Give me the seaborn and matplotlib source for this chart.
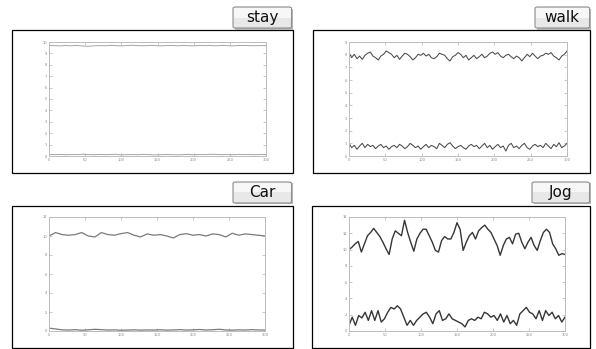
import numpy as np
import matplotlib
matplotlib.use("Agg")
import matplotlib.pyplot as plt
from matplotlib.patches import Rectangle, FancyBboxPatch
import seaborn as sns

sns.set_style("white")
plt.rcParams['font.family'] = ['DejaVu Sans']

# ---------------- data ----------------
titles = ["stay", "walk", "Car", "Jog"]
x_ticks = [0, 50, 100, 150, 200, 250, 300]

stay_upper = [9.70, 9.68, 9.66, 9.69, 9.67, 9.70, 9.65, 9.62, 9.66, 9.68, 9.67, 9.70, 9.68, 9.66,
              9.69, 9.71, 9.68, 9.67, 9.70, 9.69, 9.66, 9.68, 9.70, 9.67, 9.69, 9.68, 9.66, 9.70,
              9.68, 9.69, 9.67, 9.70, 9.68, 9.66, 9.69, 9.70, 9.68, 9.67, 9.69, 9.68]
stay_lower = [0.15, 0.12, 0.14, 0.11, 0.13, 0.12, 0.15, 0.13, 0.11, 0.14, 0.12, 0.13, 0.15, 0.10,
              0.12, 0.13, 0.11, 0.14, 0.12, 0.10, 0.11, 0.13, 0.12, 0.10, 0.12, 0.14, 0.11, 0.13,
              0.12, 0.15, 0.14, 0.12, 0.13, 0.11, 0.14, 0.12, 0.13, 0.11, 0.14, 0.12]
stay_yticks = list(range(0, 11))

walk_upper = [8.16, 7.76, 8.03, 7.68, 7.89, 7.63, 7.95, 8.11, 8.21, 7.89, 7.76, 7.58, 7.89, 8.03,
              8.29, 8.16, 8.03, 7.76, 7.95, 7.63, 7.89, 8.11, 8.03, 7.84, 7.58, 7.76, 8.03, 7.95,
              8.11, 7.89, 8.03, 7.76, 7.68, 7.84, 8.11, 8.03, 7.95, 7.68, 7.50, 7.84, 7.95, 8.16,
              8.03, 7.76, 7.95, 7.58, 7.76, 7.95, 7.68, 7.84, 8.03, 7.76, 7.89, 8.11, 8.21, 8.03,
              8.16, 7.89, 7.76, 7.95, 8.03, 7.84, 7.68, 7.89, 7.76, 7.50, 7.76, 8.03, 7.84, 8.11,
              7.89, 7.68, 7.89, 7.95, 8.11, 8.03, 8.16, 7.89, 7.76, 7.58, 7.89, 8.03, 8.29]
walk_lower = [1.00, 0.66, 0.84, 0.53, 0.79, 1.00, 0.66, 0.92, 0.74, 0.84, 0.58, 0.79, 0.92, 0.66,
              0.79, 0.53, 0.74, 0.84, 0.66, 0.92, 0.79, 0.58, 0.74, 1.00, 0.84, 0.66, 0.79, 0.53,
              0.74, 0.92, 0.66, 0.84, 0.74, 0.58, 1.00, 0.84, 0.66, 0.92, 1.05, 0.79, 0.58, 0.74,
              0.84, 0.66, 0.53, 0.79, 0.92, 0.74, 0.84, 0.58, 0.79, 1.00, 0.66, 0.84, 0.53, 0.74,
              0.92, 0.66, 0.79, 0.39, 0.84, 1.00, 0.66, 0.79, 0.58, 0.84, 1.00, 0.66, 0.53, 0.79,
              0.92, 0.74, 0.84, 0.66, 1.00, 0.79, 0.58, 0.92, 0.74, 1.05, 0.66, 0.79, 1.00]
walk_yticks = list(range(0, 10))

car_upper = [10.00, 10.36, 10.15, 10.08, 10.15, 10.36, 10.00, 9.90, 10.36, 10.15, 10.08, 10.25,
             10.36, 10.08, 9.90, 10.22, 10.08, 10.15, 10.00, 9.80, 10.15, 10.25, 10.08, 10.15,
             10.00, 10.22, 10.15, 9.90, 10.29, 10.08, 10.22, 10.15, 10.08, 10.00]
car_lower = [0.30, 0.22, 0.12, 0.10, 0.14, 0.08, 0.12, 0.18, 0.14, 0.10, 0.12, 0.08, 0.10, 0.12,
             0.09, 0.11, 0.10, 0.13, 0.09, 0.11, 0.14, 0.10, 0.12, 0.16, 0.10, 0.13, 0.18, 0.11,
             0.09, 0.12, 0.10, 0.14, 0.11, 0.10]
car_yticks = [0, 2, 4, 6, 8, 10, 12]

jog_upper = [10.0, 10.3, 10.7, 11.0, 9.7, 10.7, 11.7, 12.1, 12.6, 12.1, 11.6, 10.9, 10.1, 9.4,
             11.3, 12.3, 12.0, 11.7, 13.6, 12.1, 10.9, 9.8, 11.3, 12.0, 12.5, 12.5, 11.7, 10.9,
             9.9, 9.7, 11.1, 11.6, 11.3, 11.3, 12.1, 13.3, 12.5, 9.9, 10.9, 11.7, 12.1, 11.3,
             12.3, 12.7, 13.0, 12.5, 12.1, 11.3, 10.5, 9.3, 10.5, 11.3, 11.5, 10.7, 11.9, 12.0,
             10.9, 10.1, 10.9, 11.5, 10.5, 9.9, 11.1, 12.1, 12.5, 12.1, 10.7, 10.1, 9.3, 9.5, 9.4]
jog_lower = [0.7, 1.7, 0.7, 1.9, 1.6, 2.3, 1.3, 2.5, 1.3, 2.5, 1.1, 1.5, 2.3, 2.9, 2.7, 3.1,
             2.7, 1.7, 0.7, 1.3, 0.7, 1.3, 1.7, 2.1, 2.3, 1.7, 0.9, 2.1, 2.5, 1.3, 1.5, 2.1,
             1.5, 1.3, 1.1, 0.9, 0.5, 1.3, 1.5, 1.3, 1.7, 1.5, 2.3, 2.1, 1.7, 1.9, 1.3, 2.1,
             1.1, 1.9, 0.9, 1.3, 0.7, 2.1, 2.5, 2.9, 2.3, 2.1, 1.5, 2.5, 1.3, 2.5, 1.9, 2.3,
             1.5, 1.9, 1.1, 1.7]
jog_yticks = [0, 2, 4, 6, 8, 10, 12, 14]

panels = [
    dict(title=titles[0], series=[stay_upper, stay_lower], yticks=stay_yticks, color="#a5a5a5", lw=0.7,
         ax_px=(49, 42, 266, 156), box_px=(12, 30.5, 292.5, 172.5), tab_px=(233, 7, 291.5, 28)),
    dict(title=titles[1], series=[walk_upper, walk_lower], yticks=walk_yticks, color="#4a4a4a", lw=0.75,
         ax_px=(349, 42, 567, 156), box_px=(313, 30.5, 590, 172.5), tab_px=(535, 7, 589.5, 28)),
    dict(title=titles[2], series=[car_upper, car_lower], yticks=car_yticks, color="#7a7a7a", lw=0.9,
         ax_px=(49, 217, 265, 331), box_px=(12, 205.5, 292.5, 347.5), tab_px=(233, 182, 291.5, 203)),
    dict(title=titles[3], series=[jog_upper, jog_lower], yticks=jog_yticks, color="#363636", lw=1.0,
         ax_px=(349, 217, 565, 331), box_px=(312, 205.5, 590, 347.5), tab_px=(532, 182, 589.5, 203)),
]

W, H = 596, 349
fig = plt.figure(figsize=(W / 100, H / 100), dpi=100)
fig.patch.set_facecolor("white")


def frac_rect(px):
    x0, y0, x1, y1 = px
    return (x0 / W, 1 - y1 / H, (x1 - x0) / W, (y1 - y0) / H)


for p in panels:
    # outer frame
    l, b, w, h = frac_rect(p["box_px"])
    fig.patches.append(Rectangle((l, b), w, h, transform=fig.transFigure, fill=False,
                                 edgecolor="black", linewidth=0.9, zorder=1))
    # tab with shadow
    l, b, w, h = frac_rect(p["tab_px"])
    fig.patches.append(Rectangle((l + 1.5 / W, b - 1.5 / H), w, h, transform=fig.transFigure,
                                 facecolor="#b5b5b5", edgecolor="none", zorder=2))
    fig.patches.append(FancyBboxPatch((l, b), w, h, boxstyle="round,pad=0,rounding_size=0.004",
                                      transform=fig.transFigure, facecolor="#e8e8e8",
                                      edgecolor="#8f8f8f", linewidth=0.8, zorder=3))
    fig.patches.append(Rectangle((l + 1 / W, b + h * 0.5), w - 2 / W, h * 0.45,
                                 transform=fig.transFigure, facecolor="#f7f7f7",
                                 edgecolor="none", zorder=3))
    fig.text(l + w / 2, b + h / 2, p["title"], ha="center", va="center", fontsize=11,
             color="#111111", zorder=4)

    # inner plot
    ax = fig.add_axes(frac_rect(p["ax_px"]))
    for s in p["series"]:
        xs = np.linspace(0, 300, len(s))
        sns.lineplot(x=xs, y=s, ax=ax, color=p["color"], linewidth=p["lw"])
    ax.set_xlim(0, 300)
    ax.set_ylim(p["yticks"][0], p["yticks"][-1])
    ax.set_xticks(x_ticks)
    ax.set_yticks(p["yticks"])
    ax.tick_params(axis="both", direction="in", length=2, width=0.5, color="#b0b0b0",
                   labelsize=2.6, labelcolor="#8a8a8a", pad=1.5,
                   top=True, right=True, bottom=True, left=True)
    for sp in ax.spines.values():
        sp.set_visible(True)
        sp.set_color("#bcbcbc")
        sp.set_linewidth(0.7)
    ax.set_facecolor("white")

fig.savefig("out.png", dpi=100)
